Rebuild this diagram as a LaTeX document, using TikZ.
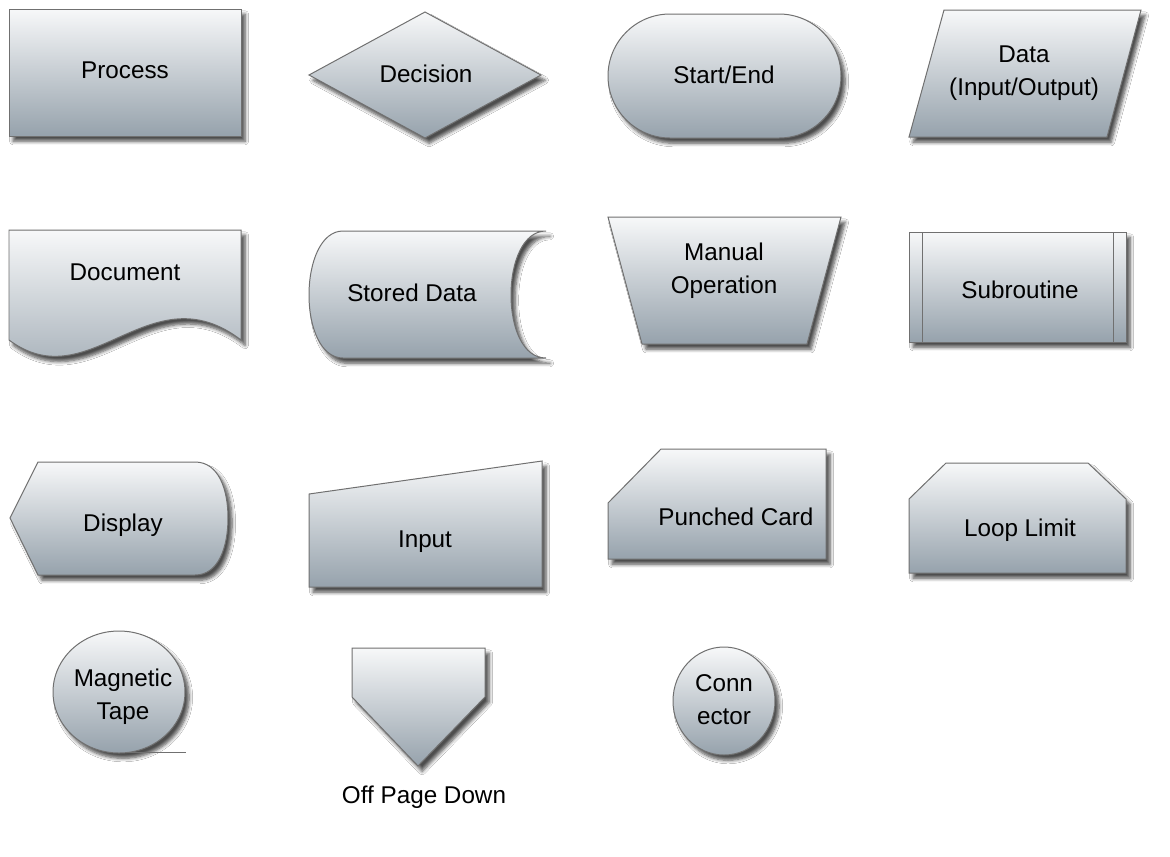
\documentclass[tikz,border=0pt]{standalone}
\usepackage{fontspec}
\setmainfont{Liberation Sans}
\usetikzlibrary{shadows.blur}
\definecolor{topc}{HTML}{F7F8F9}
\definecolor{botc}{HTML}{96A2AC}
\definecolor{edgec}{HTML}{707070}
\tikzset{
  shp/.style={draw=edgec, line width=0.85pt, line join=miter, top color=topc, bottom color=botc,
    blur shadow={shadow xshift=3.5pt, shadow yshift=-4.5pt, shadow blur radius=3pt, shadow blur steps=6, shadow opacity=70}},
  plainline/.style={draw=edgec, line width=0.85pt},
  lbl/.style={font=\fontsize{20.7}{28}\selectfont, align=center, inner sep=0pt, text=black}
}
\begin{document}
\begin{tikzpicture}[x=0.03cm,y=-0.03cm]
\useasboundingbox[fill=white] (0,0) rectangle (1170,856);

% Row 1
\path[shp] (9,9) rectangle (241,136);
\node[lbl] (process) at (125,70) {Process};

\path[shp] (309,75) -- (425,12) -- (541,75) -- (425,138) -- cycle;
\node[lbl] (decision) at (426,74) {Decision};

\path[shp] (670,14) -- (779,14) arc[start angle=-90, end angle=90, radius=62] -- (670,138) arc[start angle=90, end angle=270, radius=62] -- cycle;
\node[lbl] (startend) at (724,75) {Start/End};

\path[shp] (944,10) -- (1141,10) -- (1107,137) -- (909,137) -- cycle;
\node[lbl] (data) at (1024,73) {Data\\(Input/Output)};

% Row 2
\path[shp] (9,230) -- (241,230) -- (241,340) .. controls (150,270) and (90,400) .. (9,340) -- cycle;
\node[lbl] (document) at (125,272) {Document};

\path[shp] (546,231) -- (343,231) .. controls (321,231) and (309,262) .. (309,295) .. controls (309,328) and (321,358) .. (343,358) -- (546,358) .. controls (523,358) and (511,328) .. (511,295) .. controls (511,262) and (523,231) .. (546,231) -- cycle;
\node[lbl] (stored) at (412,293) {Stored Data};

\path[shp] (608,217) -- (841,217) -- (807,344) -- (642,344) -- cycle;
\node[lbl] (manual) at (724,271) {Manual\\Operation};

\path[shp] (909,232) rectangle (1126,342);
\draw[plainline] (922,232) -- (922,342);
\draw[plainline] (1113,232) -- (1113,342);
\node[lbl] (subroutine) at (1020,290) {Subroutine};

% Row 3
\path[shp] (10,518) -- (38,462) -- (195,462) .. controls (219,462) and (228,490) .. (228,518) .. controls (228,546) and (219,575) .. (195,575) -- (38,575) -- cycle;
\node[lbl] (display) at (123,525) {Display};

\path[shp] (309,494) -- (542,461) -- (542,587) -- (309,587) -- cycle;
\node[lbl] (input) at (425,542) {Input};

\path[shp] (608,503) -- (661,449) -- (826,449) -- (826,559) -- (608,559) -- cycle;
\node[lbl] (punched) at (736,517) {Punched Card};

\path[shp] (909,499) -- (946,463) -- (1088,463) -- (1126,499) -- (1126,573) -- (909,573) -- cycle;
\node[lbl] (loop) at (1020,530) {Loop Limit};

% Row 4
\path[shp] (119,692) ellipse[x radius=66, y radius=61];
\coordinate (tapeA) at (125,752);
\coordinate (tapeB) at (186,752);
\draw[plainline] (tapeA) -- (tapeB);
\node[lbl] (tape) at (123,697) {Magnetic\\Tape};

\path[shp] (352,648) -- (485,648) -- (485,697) -- (418,766) -- (352,697) -- cycle;
\node[lbl] (offpage) at (424,797) {Off Page Down};

\path[shp] (724,701) ellipse[x radius=51, y radius=54];
\node[lbl] (connector) at (724,700) {Conn\\ector};
\end{tikzpicture}
\end{document}
